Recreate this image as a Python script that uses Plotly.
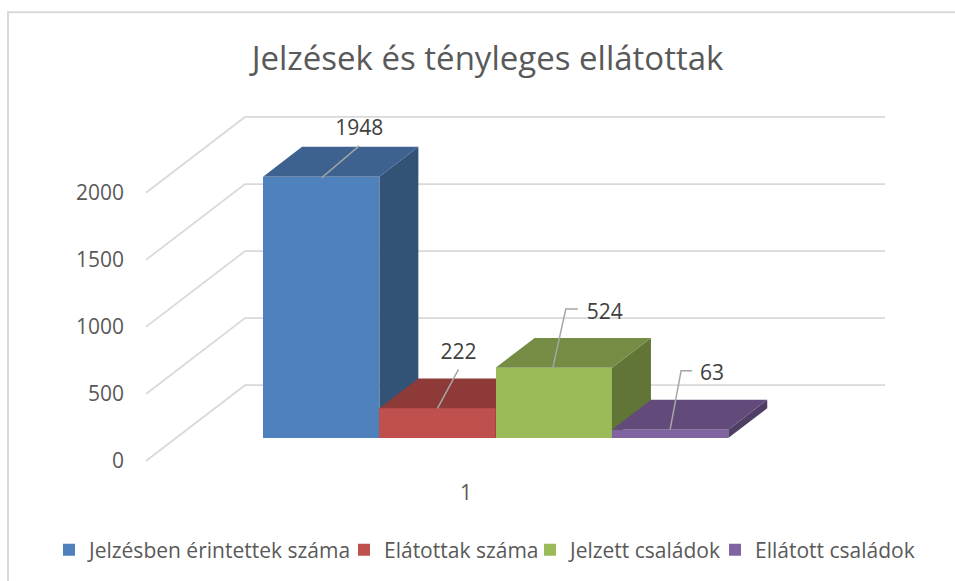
import plotly.graph_objects as go

series_names = ["Jelzésben érintettek száma", "Elátottak száma", "Jelzett családok", "Ellátott családok"]
series_values = [1948, 222, 524, 63]
front_colors = ["#4f81bd", "#c0504d", "#9bbb59", "#8064a2"]
top_colors = ["#3d628f", "#8e3a38", "#748c43", "#624b7a"]
side_colors = ["#325276", "#7a3230", "#617536", "#503e65"]
tick_values = [0, 500, 1000, 1500, 2000]
category_labels = ["1"]
title_text = "Jelzések és tényleges ellátottak"

W, H = 955, 581
L, R, T, B = 128, 900, 100, 478   # plot area in pixels
PX_Y = 0.1345                     # pixels per value unit
PX_X = 116.3                      # pixels per bar
BAR0_CENTER = 321.2               # pixel of first bar centre
BAR_BASE = 439                    # pixel of value 0 on the bar plane
WALL_BASE = 462                   # pixel of value 0 on the axis plane

x_range = [(L - BAR0_CENTER) / PX_X, (R - BAR0_CENTER) / PX_X]
y_range_wall = [(WALL_BASE - B) / PX_Y, (WALL_BASE - T) / PX_Y]
y_range_bars = [(BAR_BASE - B) / PX_Y, (BAR_BASE - T) / PX_Y]

# oblique projection offsets, as axis units
DEPTH_X, DEPTH_Y = 39 / PX_X, 30 / PX_Y
WALL_X0, WALL_X1, WALL_X2 = [(p - BAR0_CENTER) / PX_X for p in (146, 245, 885)]
WALL_Y = 76 / PX_Y
CATEGORY_X = (466 - BAR0_CENTER) / PX_X

# data-label leader offsets (px from bar top-front)
leaders = [
    dict(pts=[(0.5, -1), (38, 31)], label=(38, 47)),
    dict(pts=[(0, 0), (21, 39)], label=(21, 55)),
    dict(pts=[(-1, 0), (12, 59), (24, 59)], label=(51, 54)),
    dict(pts=[(0, 0), (11, 59), (22, 59)], label=(42, 55)),
]
# text start pixel of each legend entry
legend_text_px = [89, 384, 570, 755]

fig = go.Figure()

for v in tick_values:
    fig.add_trace(go.Scatter(
        x=[WALL_X0, WALL_X1, WALL_X2], y=[v, v + WALL_Y, v + WALL_Y],
        mode="lines", line=dict(color="#d9d9d9", width=1.75),
        showlegend=False, hoverinfo="skip", xaxis="x", yaxis="y"))

legend_ids = ["legend", "legend2", "legend3", "legend4"]
for i, (name, value) in enumerate(zip(series_names, series_values)):
    ya = f"y{i + 2}"
    left, right = i - 0.5, i + 0.5
    fig.add_trace(go.Bar(
        x=[i], y=[value], width=1, name=name, legend=legend_ids[i],
        marker=dict(color=front_colors[i], line=dict(width=0)),
        xaxis="x", yaxis=ya, showlegend=True))
    fig.add_trace(go.Scatter(
        x=[right, right + DEPTH_X, right + DEPTH_X, right, right],
        y=[0, DEPTH_Y, value + DEPTH_Y, value, 0],
        mode="lines", fill="toself", fillcolor=side_colors[i], line=dict(width=0),
        showlegend=False, hoverinfo="skip", xaxis="x", yaxis=ya))
    fig.add_trace(go.Scatter(
        x=[left, left + DEPTH_X, right + DEPTH_X, right, left],
        y=[value, value + DEPTH_Y, value + DEPTH_Y, value, value],
        mode="lines", fill="toself", fillcolor=top_colors[i], line=dict(width=0),
        showlegend=False, hoverinfo="skip", xaxis="x", yaxis=ya))

for i, (value, leader) in enumerate(zip(series_values, leaders)):
    fig.add_trace(go.Scatter(
        x=[i + p[0] / PX_X for p in leader["pts"]],
        y=[value + p[1] / PX_Y for p in leader["pts"]],
        mode="lines", line=dict(color="#a6a6a6", width=1.5),
        showlegend=False, hoverinfo="skip", xaxis="x", yaxis="y5"))
    fig.add_trace(go.Scatter(
        x=[i + leader["label"][0] / PX_X], y=[value + leader["label"][1] / PX_Y],
        mode="text", text=[str(value)], textposition="middle center",
        textfont=dict(family="Open Sans", size=21, color="#404040"),
        showlegend=False, hoverinfo="skip", xaxis="x", yaxis="y5"))

layout = dict(
    width=W, height=H, autosize=False,
    margin=dict(l=L, r=W - R, t=T, b=H - B, pad=0),
    paper_bgcolor="white", plot_bgcolor="white",
    font=dict(family="Open Sans", size=21, color="#595959"),
    bargap=0, showlegend=True,
    title=dict(text=title_text, x=487.5 / W, xanchor="center", y=1 - 58 / H, yanchor="middle",
               font=dict(family="Open Sans", size=33, color="#595959")),
    xaxis=dict(range=x_range, showgrid=False, zeroline=False, showline=False, ticks="",
               tickvals=[CATEGORY_X], ticktext=category_labels, automargin=False,
               ticklabelstandoff=1),
    yaxis=dict(range=y_range_wall, showgrid=False, zeroline=False, showline=False, ticks="",
               tickvals=tick_values, automargin=False, ticklabelstandoff=3),
    shapes=[dict(type="rect", xref="paper", yref="paper",
                 x0=(8 - L) / (R - L), x1=(965 - L) / (R - L),
                 y0=(B - 12) / (B - T), y1=(B - 595) / (B - T),
                 line=dict(color="#d9d9d9", width=2), layer="below")],
)
for lid, px in zip(legend_ids, legend_text_px):
    layout[lid] = dict(orientation="h", x=(px - 40 - L) / (R - L), xanchor="left",
                       y=(B - 550) / (B - T), yanchor="middle",
                       font=dict(family="Open Sans", size=21, color="#595959"),
                       bgcolor="rgba(0,0,0,0)", itemclick=False, itemdoubleclick=False)
for k in range(2, 6):
    layout[f"yaxis{k}"] = dict(range=y_range_bars, overlaying="y", visible=False,
                               showgrid=False, zeroline=False)
fig.update_layout(**layout)
fig.write_html("out.html", post_script="document.body.style.margin='0';",
               config={"displayModeBar": False})
